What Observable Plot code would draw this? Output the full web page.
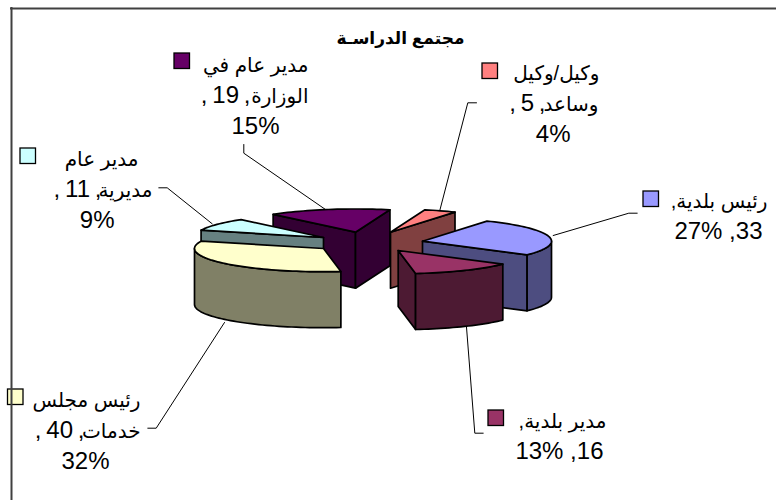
<!DOCTYPE html>
<html><head><meta charset="utf-8">
<script src="https://cdn.jsdelivr.net/npm/d3@7"></script>
<script src="https://cdn.jsdelivr.net/npm/@observablehq/plot@0.6"></script>
<style>html,body{margin:0;padding:0;background:#fff}</style>
</head><body><div id="chart"></div>
<script>
// Data, in pie order (clockwise)
const categories = ["رئيس بلدية", "مدير بلدية", "رئيس مجلس خدمات", "مدير عام مديرية", "مدير عام في الوزارة", "وكيل/وكيل وساعد"];
const values = [33, 16, 40, 11, 19, 5];
const percents = ["27%", "13%", "32%", "9%", "15%", "4%"];
const topColors = ["#9999FF", "#993366", "#FFFFCC", "#CCFFFF", "#660066", "#FF8080"];
const sideColors = ["#4D4D80", "#4D1A33", "#808066", "#668080", "#330033", "#804040"];
const title = "مجتمع الدراسـة";
// Arabic parts of each label, one entry per wrapped line
const nameLine1 = ["رئيس بلدية,", "مدير بلدية,", "رئيس مجلس", "مدير عام", "مدير عام في", "وكيل/وكيل"];
const nameLine2 = [null, null, "خدمات", "مديرية", "الوزارة", "وساعد"];

// Layout
const W = 776, H = 500;
const firstAngle = 30, radius = 129, tilt = 0.18, depth = 56;
const apexX = [422, 397.7, 323, 323, 355, 390];
const apexY = [240.7, 250, 248, 237, 231.7, 231.7];
const drawOrder = [5, 4, 3, 0, 2, 1];
const line1Right = [767, 606, 140, 138, 308, 599];
const line1Base = [207, 427, 406, 165, 71, 79];
const line2Right = [762, 603, 140, 152, 308, 598];
const numRight = [null, null, 84, 101, 250, 545];
const pctRight = [null, null, 109, 114, 279, 570];
const lineGap = 31;
const arabicSize = 20, digitSize = 24;
const keyX = [643, 488, 7.5, 20, 174, 482];
const keyY = [191, 410, 389, 148, 53, 63];
const keySize = 15.5;
const leaders = [
  [[636.7,212.7],[628.3,212.7],[552.7,235]],
  [[482.7,432.7],[474.3,432.7],[466,326.7]],
  [[147.3,427.7],[155.7,427.7],[224,322]],
  [[158.3,187.3],[166.7,187.3],[211.7,223.3]],
  [[243.3,144],[243.3,152.7],[325,209]],
  [[476,102.3],[467.3,102.3],[439.3,210]]
];

// Pie angles from the values
const total = d3.sum(values);
let running = firstAngle;
const slices = values.map((v, i) => {
  const a0 = running; running += v / total * 360;
  return {i, a0, a1: running, cx: apexX[i], cy: apexY[i]};
});
const rad = d => d * Math.PI / 180;
const rim = (s, a, dz = 0) => ({x: s.cx + radius * Math.sin(rad(a)), y: s.cy - radius * tilt * Math.cos(rad(a)) + dz});
const arc = (s, a0, a1, dz = 0) => {
  const n = Math.max(2, Math.ceil((a1 - a0) / 2)), out = [];
  for (let j = 0; j <= n; j++) out.push(rim(s, a0 + (a1 - a0) * j / n, dz));
  return out;
};
const radialFace = (s, a) => [{x: s.cx, y: s.cy}, rim(s, a), rim(s, a, depth), {x: s.cx, y: s.cy + depth}];
const facesOf = s => {
  const faces = [];
  if (Math.sin(rad(s.a0)) < 0) faces.push({pts: radialFace(s, s.a0), fill: sideColors[s.i]});
  if (Math.sin(rad(s.a1)) > 0) faces.push({pts: radialFace(s, s.a1), fill: sideColors[s.i]});
  const w0 = Math.max(s.a0, 90), w1 = Math.min(s.a1, 270);
  if (w1 > w0) faces.push({pts: [...arc(s, w0, w1), ...arc(s, w0, w1, depth).reverse()], fill: sideColors[s.i]});
  faces.push({pts: [{x: s.cx, y: s.cy}, ...arc(s, s.a0, s.a1)], fill: topColors[s.i]});
  return faces;
};
const faces = drawOrder.flatMap(i => facesOf(slices[i]));

// Label pieces: Arabic runs and Latin-digit runs take different sizes
const thin = "\u2009";
const arabicRows = [], digitRows = [];
values.forEach((v, i) => {
  arabicRows.push({t: nameLine1[i], x: line1Right[i], y: line1Base[i]});
  const y2 = line1Base[i] + lineGap;
  if (nameLine2[i]) {
    arabicRows.push({t: nameLine2[i], x: line2Right[i], y: y2});
    digitRows.push({t: `,${thin}${v}${thin},`, x: numRight[i], y: y2});
    digitRows.push({t: percents[i], x: pctRight[i], y: y2 + lineGap});
  } else {
    digitRows.push({t: `${v}, ${percents[i]}`, x: line2Right[i], y: y2});
  }
});
const keys = values.map((_, i) => ({i, x1: keyX[i], x2: keyX[i] + keySize, y1: keyY[i], y2: keyY[i] + keySize, fill: topColors[i]}));
const font = "Liberation Sans, Arial, DejaVu Sans, sans-serif";

const chart = Plot.plot({
  width: W, height: H, margin: 0,
  x: {domain: [0, W], range: [0, W], axis: null},
  y: {domain: [0, H], range: [0, H], axis: null},
  style: {background: "#fff", direction: "rtl"},
  marks: [
    ...leaders.map(l => Plot.line(l, {x: d => d[0], y: d => d[1], stroke: "#000", strokeWidth: 1})),
    ...faces.map(f => Plot.line(f.pts, {x: "x", y: "y", curve: "linear-closed", fill: f.fill, stroke: "#000", strokeWidth: 1.7, strokeLinejoin: "round"})),
    Plot.rect(keys, {x1: "x1", x2: "x2", y1: "y1", y2: "y2", fill: "fill", stroke: "#000", strokeWidth: 1.3}),
    Plot.ruleX([11], {y1: 7, y2: H, stroke: "#404040", strokeWidth: 2}),
    Plot.ruleY([8], {x1: 10, x2: W, stroke: "#404040", strokeWidth: 2}),
    Plot.text([title], {x: 400, y: 38, text: d => d, fontSize: 17, fontWeight: "bold", fontFamily: font, fill: "#000"}),
    Plot.text(arabicRows, {x: "x", y: "y", text: "t", textAnchor: "start", lineAnchor: "bottom", fontSize: arabicSize, fontFamily: font, fill: "#000"}),
    Plot.text(digitRows, {x: "x", y: "y", text: "t", textAnchor: "start", lineAnchor: "bottom", fontSize: digitSize, fontFamily: font, fill: "#000"})
  ]
});
document.getElementById("chart").append(chart);
</script></body></html>
